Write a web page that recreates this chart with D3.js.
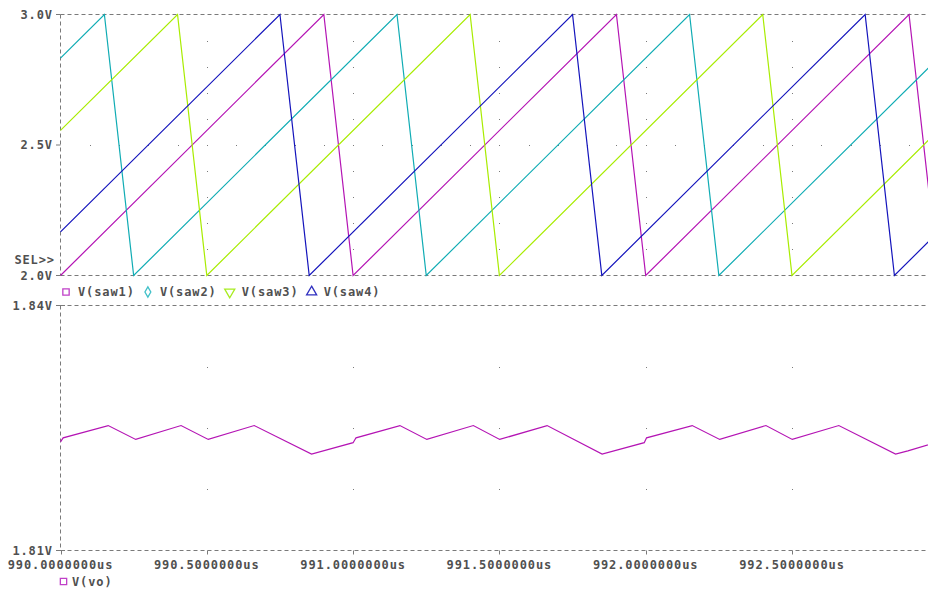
<!DOCTYPE html>
<html>
<head>
<meta charset="utf-8">
<script src="https://cdn.jsdelivr.net/npm/d3@7"></script>
<style>
body { margin: 0; background: #fff; }
text { font-family: "DejaVu Sans Mono", monospace; font-weight: bold; font-size: 12px; fill: #505050; letter-spacing: 0.9px; }
</style>
</head>
<body>
<div id="chart"></div>
<script>
// time axis, us
var xTicks = [990.0, 990.5, 991.0, 991.5, 992.0, 992.5];

// upper panel ticks
var topTicks = [2.0, 2.5, 3.0];
var topTickLabels = ["2.0V", "2.5V", "3.0V"];
// lower panel ticks
var botTicks = [1.81, 1.84];
var botTickLabels = ["1.81V", "1.84V"];

// sawtooth breakpoints (time in us, volts)
var saw1T = [990.0, 990.9, 991.0, 991.9, 992.0, 992.9, 993.0];
var saw1V = [2.0, 3.0, 2.0, 3.0, 2.0, 3.0, 2.0];
var saw2T = [990.0, 990.15, 990.25, 991.15, 991.25, 992.15, 992.25, 993.0];
var saw2V = [2.833, 3.0, 2.0, 3.0, 2.0, 3.0, 2.0, 2.833];
var saw3T = [990.0, 990.4, 990.5, 991.4, 991.5, 992.4, 992.5, 993.0];
var saw3V = [2.556, 3.0, 2.0, 3.0, 2.0, 3.0, 2.0, 2.556];
var saw4T = [990.0, 990.75, 990.85, 991.75, 991.85, 992.75, 992.85, 993.0];
var saw4V = [2.167, 3.0, 2.0, 3.0, 2.0, 3.0, 2.0, 2.167];

// output voltage
var voT = [990.0, 990.009, 990.163, 990.257, 990.412, 990.505, 990.662, 990.858, 991.0, 991.01,
           991.16, 991.252, 991.411, 991.501, 991.663, 991.851, 991.995, 992.003, 992.159, 992.253,
           992.411, 992.501, 992.66, 992.854, 992.896, 993.0];
var voV = [1.8233, 1.8238, 1.8253, 1.8236, 1.8253, 1.8236, 1.8253, 1.8218, 1.8232, 1.8238,
           1.8253, 1.8236, 1.8253, 1.8236, 1.8253, 1.8218, 1.8232, 1.8238, 1.8253, 1.8236,
           1.8253, 1.8236, 1.8253, 1.8218, 1.8222, 1.8233];

var names = ["V(saw1)", "V(saw2)", "V(saw3)", "V(saw4)"];
var colors = ["#b414b4", "#10acb4", "#a8ec00", "#1414bc"];
var legendColors = ["#c040c8", "#40c0c8", "#a8ec20", "#3030c0"];

var width = 928, height = 591;
var gridColor = "#7a7a7a";

var svg = d3.select("#chart").append("svg")
    .attr("width", width)
    .attr("height", height);

// scales
var x = d3.scaleLinear().domain([990, 993]).range([60.5, 60.5 + 3 * 292.6]);
var yTop = d3.scaleLinear().domain([2.0, 3.0]).range([275.5, 14.5]);
var yBot = d3.scaleLinear().domain([1.81, 1.84]).range([550.5, 305.5]);

function dashH(y) {
    svg.append("line")
        .attr("x1", 60.5).attr("x2", width)
        .attr("y1", y).attr("y2", y)
        .attr("stroke", gridColor).attr("stroke-dasharray", "4,3");
}
function dashV(y1, y2) {
    svg.append("line")
        .attr("x1", 60.5).attr("x2", 60.5)
        .attr("y1", y1).attr("y2", y2)
        .attr("stroke", gridColor).attr("stroke-dasharray", "4,3");
}

// panel frames
dashH(yTop(3.0)); dashH(yTop(2.0));
dashH(yBot(1.84)); dashH(yBot(1.81));
dashV(yTop(3.0), yTop(2.0));
dashV(yBot(1.84), yBot(1.81));

// dotted grid
var dots = svg.append("g").attr("fill", gridColor);
var topGridV = [2.1, 2.2, 2.3, 2.4, 2.5, 2.6, 2.7, 2.8, 2.9];
xTicks.slice(1).forEach(function(t) {
    topGridV.forEach(function(v) {
        dots.append("rect").attr("x", Math.round(x(t))).attr("y", Math.round(yTop(v)))
            .attr("width", 1).attr("height", 1);
    });
});
d3.range(1, 30).forEach(function(i) {
    dots.append("rect").attr("x", Math.round(x(990 + i / 10))).attr("y", Math.round(yTop(2.5)))
        .attr("width", 1).attr("height", 1);
});
var botGridV = [1.8175, 1.825, 1.8325];
xTicks.slice(1).forEach(function(t) {
    botGridV.forEach(function(v) {
        dots.append("rect").attr("x", Math.round(x(t))).attr("y", Math.round(yBot(v)))
            .attr("width", 1).attr("height", 1);
    });
});

// y axis ticks and labels
topTicks.forEach(function(v, i) {
    svg.append("line").attr("x1", 56).attr("x2", 60.5)
        .attr("y1", yTop(v)).attr("y2", yTop(v)).attr("stroke", gridColor);
    svg.append("text").attr("x", 53).attr("y", yTop(v)).attr("dy", "0.36em")
        .attr("text-anchor", "end").text(topTickLabels[i]);
});
botTicks.forEach(function(v, i) {
    svg.append("line").attr("x1", 56).attr("x2", 65)
        .attr("y1", yBot(v)).attr("y2", yBot(v)).attr("stroke", gridColor);
    svg.append("text").attr("x", 53).attr("y", yBot(v)).attr("dy", "0.36em")
        .attr("text-anchor", "end").text(botTickLabels[i]);
});
svg.append("text").attr("x", 55).attr("y", 260).attr("dy", "0.36em")
    .attr("text-anchor", "end").text("SEL>>");

// x axis ticks and labels
xTicks.forEach(function(t) {
    svg.append("line").attr("x1", Math.round(x(t)) + 0.5).attr("x2", Math.round(x(t)) + 0.5)
        .attr("y1", yBot(1.81)).attr("y2", yBot(1.81) + 4).attr("stroke", gridColor);
    svg.append("text").attr("x", x(t)).attr("y", 565).attr("dy", "0.36em")
        .attr("text-anchor", "middle").text(d3.format(".7f")(t) + "us");
});

// traces
svg.append("clipPath").attr("id", "clip").append("rect")
    .attr("x", 60).attr("y", 0).attr("width", width).attr("height", height);

var lineTop = d3.line().x(function(d) { return x(d[0]); }).y(function(d) { return yTop(d[1]); });
var lineBot = d3.line().x(function(d) { return x(d[0]); }).y(function(d) { return yBot(d[1]); });

var saws = [[saw1T, saw1V], [saw2T, saw2V], [saw3T, saw3V], [saw4T, saw4V]];
saws.forEach(function(s, i) {
    svg.append("path")
        .datum(d3.zip(s[0], s[1]))
        .attr("clip-path", "url(#clip)")
        .attr("fill", "none")
        .attr("stroke", colors[i])
        .attr("stroke-width", 1.2)
        .attr("d", lineTop);
});

svg.append("path")
    .datum(d3.zip(voT, voV))
    .attr("clip-path", "url(#clip)")
    .attr("fill", "none")
    .attr("stroke", colors[0])
    .attr("stroke-width", 1.2)
    .attr("d", lineBot);

// legends
var symbols = [d3.symbolSquare, d3.symbolDiamond, d3.symbolTriangle, d3.symbolTriangle];
var symSize = [40, 30, 44, 44];
var symRot = [0, 0, 180, 0];
var lx = 66;
names.forEach(function(n, i) {
    svg.append("path")
        .attr("d", d3.symbol().type(symbols[i]).size(symSize[i]))
        .attr("transform", "translate(" + lx + ",292) rotate(" + symRot[i] + ")")
        .attr("fill", "none").attr("stroke", legendColors[i]).attr("stroke-width", 1.3);
    var t = svg.append("text").attr("x", lx + 12).attr("y", 292).attr("dy", "0.36em").text(n);
    lx = lx + 12 + t.node().getComputedTextLength() + 13;
});

svg.append("path")
    .attr("d", d3.symbol().type(d3.symbolSquare).size(40))
    .attr("transform", "translate(63.5,581.5)")
    .attr("fill", "none").attr("stroke", legendColors[0]).attr("stroke-width", 1.3);
svg.append("text").attr("x", 72).attr("y", 581.5).attr("dy", "0.36em").text("V(vo)");
</script>
</body>
</html>
